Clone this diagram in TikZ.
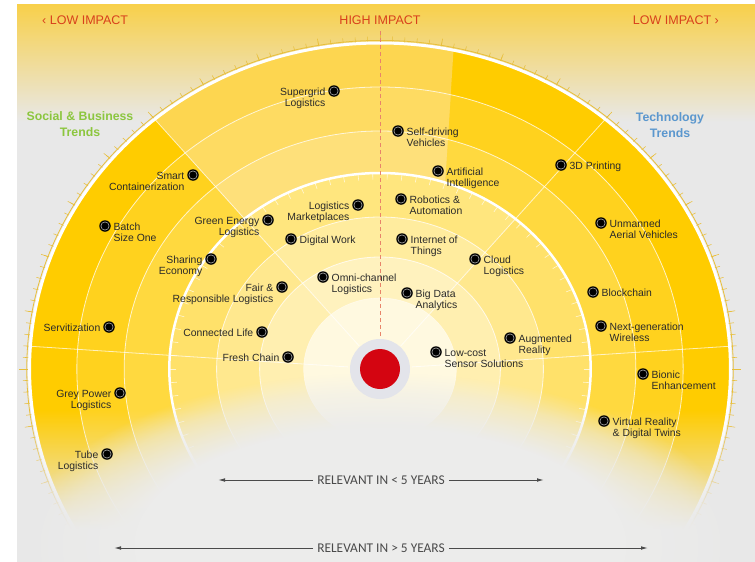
\documentclass[tikz,border=0pt]{standalone}
\usepackage{fontspec}
\setmainfont{Liberation Sans}
\newfontfamily\condfont{Carlito}
\usetikzlibrary{fadings,arrows.meta}
\definecolor{bggray}{HTML}{E8E8E8}
\definecolor{hillcol}{HTML}{ECECEB}
\definecolor{topyel}{HTML}{F8D04A}
\definecolor{tickcol}{HTML}{E8BF3A}
\definecolor{bA}{HTML}{FFCC00}
\definecolor{bB}{HTML}{FFD21E}
\definecolor{bC}{HTML}{FFD93F}
\definecolor{bD}{HTML}{FFE16A}
\definecolor{bE}{HTML}{FFE88E}
\definecolor{bF}{HTML}{FFEFB0}
\definecolor{bG}{HTML}{FFF9E0}
\definecolor{tA}{HTML}{FDD650}
\definecolor{tB}{HTML}{FEDB62}
\definecolor{tC}{HTML}{FEE07A}
\definecolor{tD}{HTML}{FFE67E}
\definecolor{tE}{HTML}{FFEC9E}
\definecolor{tF}{HTML}{FFF2BE}
\definecolor{impred}{HTML}{D8401C}
\definecolor{dhlred}{HTML}{D40511}
\definecolor{halogray}{HTML}{E3E4EA}
\definecolor{socgreen}{HTML}{8CC63E}
\definecolor{techblue}{HTML}{5B97CE}
\definecolor{txtcol}{HTML}{2A2A2A}
\definecolor{arrcol}{HTML}{4A4A4A}
\definecolor{dashcol}{HTML}{E8846A}
\pgfdeclareradialshading{hillshade}{\pgfpoint{0bp}{0bp}}{color(0bp)=(white); color(17bp)=(white); color(22bp)=(white!50!black); color(25bp)=(black); color(50bp)=(black)}
\pgfdeclarefading{hillfade}{\pgfuseshading{hillshade}}
\pgfdeclareverticalshading{floorshade}{100bp}{color(0bp)=(white); color(36bp)=(white); color(75bp)=(black); color(100bp)=(black)}
\pgfdeclarefading{floorfade}{\pgfuseshading{floorshade}}
\newcommand\labR[1]{\begin{tabular}[t]{@{}r@{}}#1\end{tabular}}
\newcommand\labL[1]{\begin{tabular}[t]{@{}l@{}}#1\end{tabular}}
\newcommand\labC[1]{\begin{tabular}[t]{@{}c@{}}#1\end{tabular}}
\tikzset{
  dot/.style={circle, inner sep=0pt, minimum size=11.5pt, fill=black,
    path picture={\draw[white!70!black, line width=0.55pt] (path picture bounding box.center) circle (4.1pt);}},
  labr/.style={anchor=base east, xshift=-8.5pt, yshift=-4.5pt, inner sep=0pt, text=txtcol,
    font=\fontsize{10.4}{11.2}\selectfont},
  labl/.style={anchor=base west, xshift=8.5pt, yshift=-4.5pt, inner sep=0pt, text=txtcol,
    font=\fontsize{10.4}{11.2}\selectfont},
  impact/.style={text=impred, inner sep=0pt, font=\fontsize{12.5}{14}\selectfont},
  trendtitle/.style={anchor=base, inner sep=0pt, font=\bfseries\fontsize{12.3}{16.5}\selectfont},
  reltext/.style={inner sep=4pt, text=arrcol, font=\condfont\fontsize{13.4}{15}\selectfont},
  relarrow/.style={draw=arrcol, line width=0.9pt, -{Latex[length=7pt,width=3.6pt]}},
  thinring/.style={white, opacity=0.75, line width=0.8pt},
  radline/.style={white, opacity=0.7, line width=0.8pt}
}
\begin{document}
\begin{tikzpicture}[x=1pt,y=-1pt]
\useasboundingbox (0,0) rectangle (755,562);
% background
\fill[white] (0,0) rectangle (755,562);
\fill[bggray] (17,4) rectangle (755,562);
\shade[top color=topyel, bottom color=bggray] (17,4) rectangle (755,122);
% radar
\begin{scope}[shift={(380,369)}, x=1.075pt, y=1pt]
  \foreach \a in {0,2,...,358} \draw[tickcol, line width=0.55pt] (\a:327) -- (\a:332.5);
  \foreach \a in {0,10,...,350} \draw[tickcol, line width=0.55pt] (\a:327) -- (\a:335.5);
  \draw[tickcol, line width=0.8pt] (0,0) circle[radius=328.6];
  \fill[bA] (0,0) circle[radius=326];
  \fill[bB] (0,0) circle[radius=282];
  \fill[bC] (0,0) circle[radius=238];
  \begin{scope}
    \clip (130:196) arc[start angle=130, end angle=72, radius=196] -- (78:330) arc[start angle=78, end angle=130, radius=330] -- cycle;
    \fill[tA] (0,0) circle[radius=326];
    \fill[tB] (0,0) circle[radius=282];
    \fill[tC] (0,0) circle[radius=238];
  \end{scope}
  \fill[bD] (0,0) circle[radius=196];
  \fill[bE] (0,0) circle[radius=152];
  \fill[bF] (0,0) circle[radius=112];
  \begin{scope}
    \clip (0,0) -- (50:200) arc[start angle=50, end angle=130, radius=200] -- cycle;
    \fill[tD] (0,0) circle[radius=196];
    \fill[tE] (0,0) circle[radius=152];
    \fill[tF] (0,0) circle[radius=112];
  \end{scope}
  \fill[bG] (0,0) circle[radius=71];
  \foreach \r in {282,238,152,112} \draw[thinring] (0,0) circle[radius=\r];
  \draw[white, opacity=0.5, line width=0.6pt] (0,0) circle[radius=71];
  \foreach \a in {4,50,130,176} \draw[radline] (\a:30) -- (\a:326);
  \foreach \a in {0,4,...,356} \draw[white, opacity=0.7, line width=0.6pt] (\a:189.5) -- (\a:195);
  \draw[white, line width=3pt] (0,0) circle[radius=326];
  \draw[white, line width=2.5pt] (0,0) circle[radius=196];
\end{scope}
% bottom fade
\fill[bggray, path fading=floorfade] (17,410) rectangle (755,562);
\fill[hillcol, path fading=hillfade] (380,545) ellipse[x radius=360, y radius=172];
% centre
\node[circle, fill=halogray, minimum size=60pt, inner sep=0pt] (halo) at (380,369) {};
\node[circle, fill=dhlred, minimum size=40pt, inner sep=0pt] (core) at (380,369) {};
% impact labels
\node[impact, anchor=base west] (lowl) at (42,24) {‹ LOW IMPACT};
\node[impact, anchor=base] (high) at (380,24) {HIGH IMPACT};
\node[impact, anchor=base east] (lowr) at (719,24) {LOW IMPACT ›};
\coordinate (dashtop) at (380,31);
\draw[dashcol, line width=0.9pt, dash pattern=on 4pt off 3pt] (dashtop) -- (halo.north);
% trend titles
\node[trendtitle, text=socgreen] (soc) at (80,120) {\labC{Social \& Business\\Trends}};
\node[trendtitle, text=techblue] (tech) at (670,121) {\labC{Technology\\Trends}};
% items - left side labels
\node[dot] (d1) at (334,91) {};   \node[labr] (t1) at (d1) {\labR{Supergrid\\Logistics}};
\node[dot] (d2) at (193,175) {};  \node[labr] (t2) at (d2) {\labR{Smart\\Containerization}};
\node[dot] (d3) at (105,226) {};  \node[labl] (t3) at (d3) {\labL{Batch\\Size One}};
\node[dot] (d4) at (268,220) {};  \node[labr] (t4) at (d4) {\labR{Green Energy\\Logistics}};
\node[dot] (d5) at (358,205) {};  \node[labr] (t5) at (d5) {\labR{Logistics\\Marketplaces}};
\node[dot] (d6) at (291,239) {};  \node[labl] (t6) at (d6) {\labL{Digital Work}};
\node[dot] (d7) at (211,259) {};  \node[labr] (t7) at (d7) {\labR{Sharing\\Economy}};
\node[dot] (d8) at (282,287) {};  \node[labr] (t8) at (d8) {\labR{Fair \&\\Responsible Logistics}};
\node[dot] (d9) at (323,277) {};  \node[labl] (t9) at (d9) {\labL{Omni-channel\\Logistics}};
\node[dot] (d10) at (109,327) {}; \node[labr] (t10) at (d10) {\labR{Servitization}};
\node[dot] (d11) at (262,332) {}; \node[labr] (t11) at (d11) {\labR{Connected Life}};
\node[dot] (d12) at (288,357) {}; \node[labr] (t12) at (d12) {\labR{Fresh Chain}};
\node[dot] (d13) at (120,393) {}; \node[labr] (t13) at (d13) {\labR{Grey Power\\Logistics}};
\node[dot] (d14) at (107,454) {}; \node[labr] (t14) at (d14) {\labR{Tube\\Logistics}};
% items - right side
\node[dot] (d15) at (398,131) {}; \node[labl] (t15) at (d15) {\labL{Self-driving\\Vehicles}};
\node[dot] (d16) at (438,171) {}; \node[labl] (t16) at (d16) {\labL{Artificial\\Intelligence}};
\node[dot] (d17) at (561,165) {}; \node[labl] (t17) at (d17) {\labL{3D Printing}};
\node[dot] (d18) at (401,199) {}; \node[labl] (t18) at (d18) {\labL{Robotics \&\\Automation}};
\node[dot] (d19) at (601,223) {}; \node[labl] (t19) at (d19) {\labL{Unmanned\\Aerial Vehicles}};
\node[dot] (d20) at (402,239) {}; \node[labl] (t20) at (d20) {\labL{Internet of\\Things}};
\node[dot] (d21) at (475,259) {}; \node[labl] (t21) at (d21) {\labL{Cloud\\Logistics}};
\node[dot] (d22) at (407,293) {}; \node[labl] (t22) at (d22) {\labL{Big Data\\Analytics}};
\node[dot] (d23) at (593,292) {}; \node[labl] (t23) at (d23) {\labL{Blockchain}};
\node[dot] (d24) at (601,326) {}; \node[labl] (t24) at (d24) {\labL{Next-generation\\Wireless}};
\node[dot] (d25) at (510,338) {}; \node[labl] (t25) at (d25) {\labL{Augmented\\Reality}};
\node[dot] (d26) at (436,352) {}; \node[labl] (t26) at (d26) {\labL{Low-cost\\Sensor Solutions}};
\node[dot] (d27) at (643,374) {}; \node[labl] (t27) at (d27) {\labL{Bionic\\Enhancement}};
\node[dot] (d28) at (604,421) {}; \node[labl] (t28) at (d28) {\labL{Virtual Reality\\\& Digital Twins}};
% relevance arrows
\node[reltext] (rel1) at (381,480) {RELEVANT IN < 5 YEARS};
\coordinate (rel1l) at (218,480);
\coordinate (rel1r) at (544,480);
\draw[relarrow] (rel1.west) -- (rel1l);
\draw[relarrow] (rel1.east) -- (rel1r);
\node[reltext] (rel2) at (381,548) {RELEVANT IN > 5 YEARS};
\coordinate (rel2l) at (114,548);
\coordinate (rel2r) at (648,548);
\draw[relarrow] (rel2.west) -- (rel2l);
\draw[relarrow] (rel2.east) -- (rel2r);
\end{tikzpicture}
\end{document}
